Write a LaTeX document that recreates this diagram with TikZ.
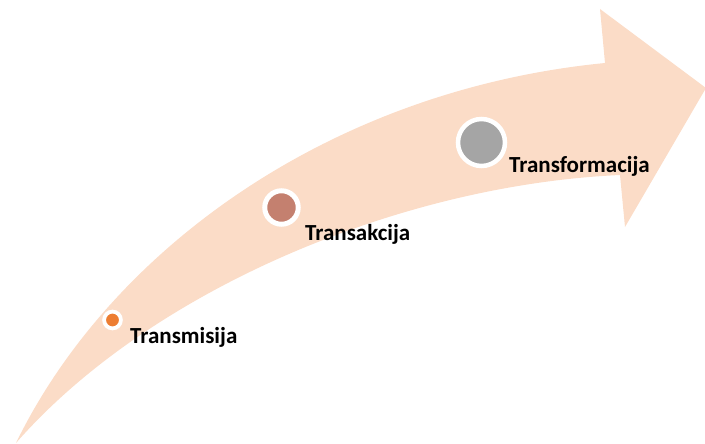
\documentclass[tikz,border=0pt]{standalone}
\usepackage{fontspec}
\setmainfont{Carlito}
\definecolor{peach}{HTML}{FBDCC7}
\definecolor{dotorange}{HTML}{ED7D31}
\definecolor{dotbrown}{HTML}{C4806F}
\definecolor{dotgray}{HTML}{A5A5A5}
\tikzset{
  dot/.style={circle, draw=white, inner sep=0pt},
  lbl/.style={anchor=base west, inner sep=0pt, font=\fontsize{23}{27}\selectfont\bfseries, text=black}
}
\begin{document}
\begin{tikzpicture}[x=1pt,y=-1pt]
\useasboundingbox (0,0) rectangle (705,444);
% curved arrow
\fill[peach] (16,443) .. controls (110,250) and (330,90) .. (605,63)
  -- (600,9) -- (706,88) -- (625,227) -- (620,175)
  .. controls (400,185) and (150,290) .. (16,443) -- cycle;
% dots
\node[dot, fill=dotorange, line width=3.8pt, minimum size=16.8pt] (d1) at (112.5,320) {};
\node[dot, fill=dotbrown, line width=5pt, minimum size=33.5pt] (d2) at (281.5,207.5) {};
\node[dot, fill=dotgray, line width=4.5pt, minimum size=47pt] (d3) at (481.5,142.5) {};
% labels
\node[lbl] (t1) at (130,343) {Transmisija};
\node[lbl] (t2) at (305,240) {Transakcija};
\node[lbl] (t3) at (509,172) {Transformacija};
\end{tikzpicture}
\end{document}
